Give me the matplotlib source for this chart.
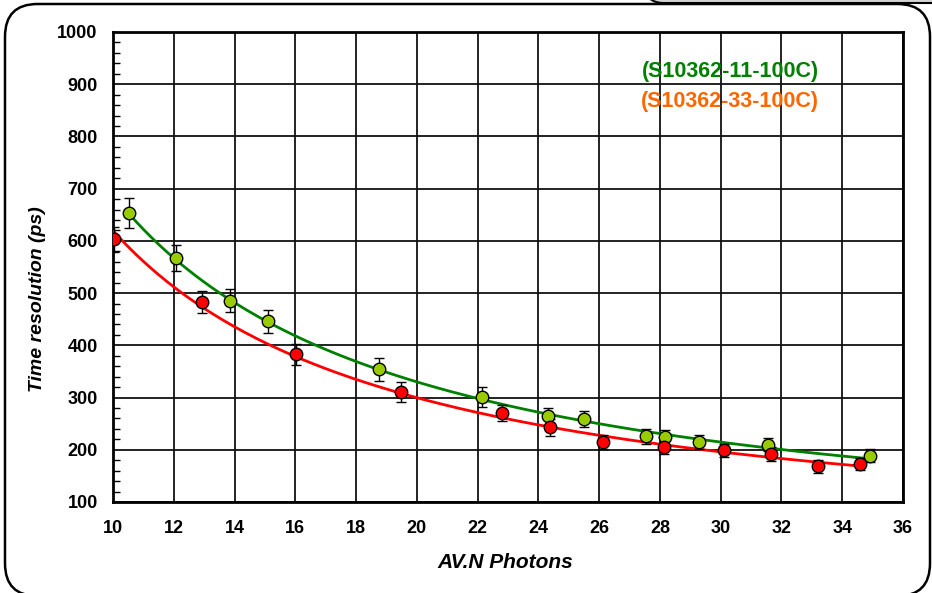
import numpy as np
import matplotlib
matplotlib.use("Agg")
import matplotlib.pyplot as plt
from matplotlib.patches import FancyBboxPatch
from matplotlib.ticker import MultipleLocator

plt.rcParams['font.family'] = ['Liberation Sans', 'DejaVu Sans']

# Measured time resolution vs. average number of photons
green_label = "(S10362-11-100C)"
green_x = [10.53, 12.07, 13.85, 15.10, 18.75, 22.14, 24.30, 25.50, 27.53, 28.16, 29.28, 31.55, 34.90]
green_y = [653, 568, 485, 446, 354, 301, 264, 259, 226, 224, 215, 210, 189]
green_err = [29, 25, 22, 22, 22, 19, 16, 16, 14, 14, 13, 13, 12]

red_label = "(S10362-33-100C)"
red_x = [10.03, 12.93, 16.02, 19.47, 22.80, 24.38, 26.12, 28.13, 30.10, 31.64, 33.19, 34.60]
red_y = [603, 483, 383, 310, 270, 243, 215, 205, 199, 192, 168, 173]
red_err = [24, 22, 20, 19, 15, 16, 14, 14, 13, 13, 12, 12]

x_ticks = list(range(10, 37, 2))
y_ticks = list(range(100, 1001, 100))

W, H = 932, 593
fig = plt.figure(figsize=(W / 100, H / 100), dpi=100)
fig.patch.set_facecolor('white')


def px(x, y):
    return x / W, 1 - y / H


# Rounded outer frame and the edge of the neighbouring panel
frame = FancyBboxPatch(px(5, 596), 925 / W, 592 / H,
                       boxstyle="round,pad=0,rounding_size=0.035",
                       transform=fig.transFigure, facecolor='white',
                       edgecolor='black', linewidth=1.8, mutation_aspect=W / H,
                       zorder=-2)
fig.patches.append(frame)
band = FancyBboxPatch(px(645, 3), 320 / W, 30 / H,
                      boxstyle="round,pad=0,rounding_size=0.02",
                      transform=fig.transFigure, facecolor='#d4d4d4',
                      edgecolor='black', linewidth=1.5, mutation_aspect=W / H,
                      zorder=-2)
fig.patches.append(band)

ax = fig.add_axes([113 / W, 1 - 502 / H, 790 / W, 470 / H])
ax.set_zorder(2)
ax.set_facecolor('white')
ax.set_xlim(10, 36)
ax.set_ylim(100, 1000)
ax.set_xticks(x_ticks)
ax.set_yticks(y_ticks)
ax.yaxis.set_minor_locator(MultipleLocator(20))
ax.grid(True, which='major', color='#111111', linewidth=1.3)
ax.set_axisbelow(True)
for s in ax.spines.values():
    s.set_linewidth(2.0)
    s.set_color('black')
ax.tick_params(axis='both', which='major', length=0, labelsize=13)
ax.tick_params(axis='x', which='major', pad=13)
ax.tick_params(axis='y', which='major', pad=11)
ax.tick_params(axis='y', which='minor', direction='in', length=5, width=1)
for lab in ax.get_xticklabels() + ax.get_yticklabels():
    lab.set_fontweight('bold')


def power_fit(x, y):
    slope, icpt = np.polyfit(np.log(x), np.log(y), 1)
    xs = np.linspace(min(x), max(x), 200)
    return xs, np.exp(icpt) * xs ** slope


for xs, ys, es, fill, line in [(green_x, green_y, green_err, '#99cc00', '#008000'),
                               (red_x, red_y, red_err, '#ff0000', '#ff0000')]:
    fx, fy = power_fit(xs, ys)
    ax.plot(fx, fy, color=line, linewidth=2.0, zorder=3)
    ax.errorbar(xs, ys, yerr=es, fmt='none', ecolor='black', elinewidth=1.0,
                capsize=3.8, capthick=1.0, zorder=4)
    ax.plot(xs, ys, 'o', markersize=9, markerfacecolor=fill,
            markeredgecolor='black', markeredgewidth=1.0, zorder=5)

fig.text(730 / W, 1 - 72 / H, green_label, color='#008000',
         fontsize=15.5, fontweight='bold', ha='center', va='center', zorder=5)
fig.text(730 / W, 1 - 102 / H, red_label, color='#ff6600',
         fontsize=15.5, fontweight='bold', ha='center', va='center', zorder=5)

fig.text(505 / W, 1 - 562 / H, "AV.N Photons", fontsize=15, fontweight='bold',
         fontstyle='italic', ha='center', va='center')
fig.text(38 / W, 1 - 299 / H, "Time resolution (ps)", fontsize=14,
         fontweight='bold', fontstyle='italic', rotation=90,
         ha='center', va='center')

fig.savefig("out.png", dpi=100, facecolor='white')
